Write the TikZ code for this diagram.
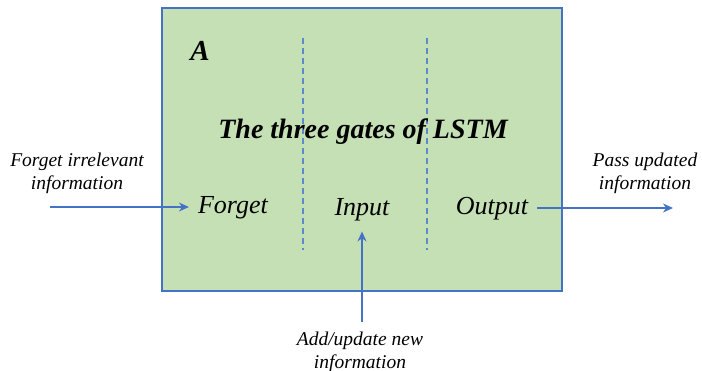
\documentclass[tikz,border=0pt]{standalone}
\usepackage{fontspec}
\setmainfont{Liberation Serif}
\usetikzlibrary{arrows.meta}
\definecolor{boxgreen}{HTML}{C5E0B4}
\definecolor{edgeblue}{HTML}{4472C4}
\definecolor{dashblue}{HTML}{5B8BC9}
\begin{document}
\begin{tikzpicture}[x=1pt,y=-1pt,
  gate/.style={font=\fontsize{26}{28}\selectfont\itshape, inner sep=0pt},
  note/.style={font=\fontsize{19.5}{23}\selectfont\itshape, align=center, inner sep=0pt},
  flow/.style={edgeblue, line width=1.1pt, -{Stealth[length=10pt,width=9pt]}},
  divider/.style={dashblue, dash pattern=on 6pt off 4pt, line width=1.2pt}]
\useasboundingbox (0,0) rectangle (702,371);
% green panel holding the three gates
\node[draw=edgeblue, fill=boxgreen, line width=1.2pt, minimum width=400pt, minimum height=283pt, inner sep=0pt] (box) at (362,149.5) {};
\draw[divider] (303,38) -- (303,250);
\draw[divider] (427,38) -- (427,250);
\node[font=\fontsize{29}{30}\selectfont\bfseries\itshape, inner sep=0pt] (lbl) at (200,51) {A};
\node[font=\fontsize{28}{30}\selectfont\bfseries\itshape, inner sep=0pt] (title) at (363,132) {The three gates of LSTM};
\node[gate] (forget) at (233,208) {Forget};
\node[gate] (input) at (362,210) {Input};
\node[gate] (output) at (492,209) {Output};
% outside notes
\node[note] (fnote) at (77,173) {Forget irrelevant\\information};
\node[note] (pnote) at (645,173) {Pass updated\\information};
\node[note] (anote) at (360,352) {Add/update new\\information};
\coordinate (fin) at (50,207);
\coordinate (pout) at (673,208);
\coordinate (ain) at (362,322);
\draw[flow, shorten >=9pt] (fin) -- (forget.west |- fin);
\draw[flow, shorten <=9pt] (output.east |- pout) -- (pout);
\draw[flow, shorten >=10pt] (ain) -- (input.south);
\end{tikzpicture}
\end{document}
